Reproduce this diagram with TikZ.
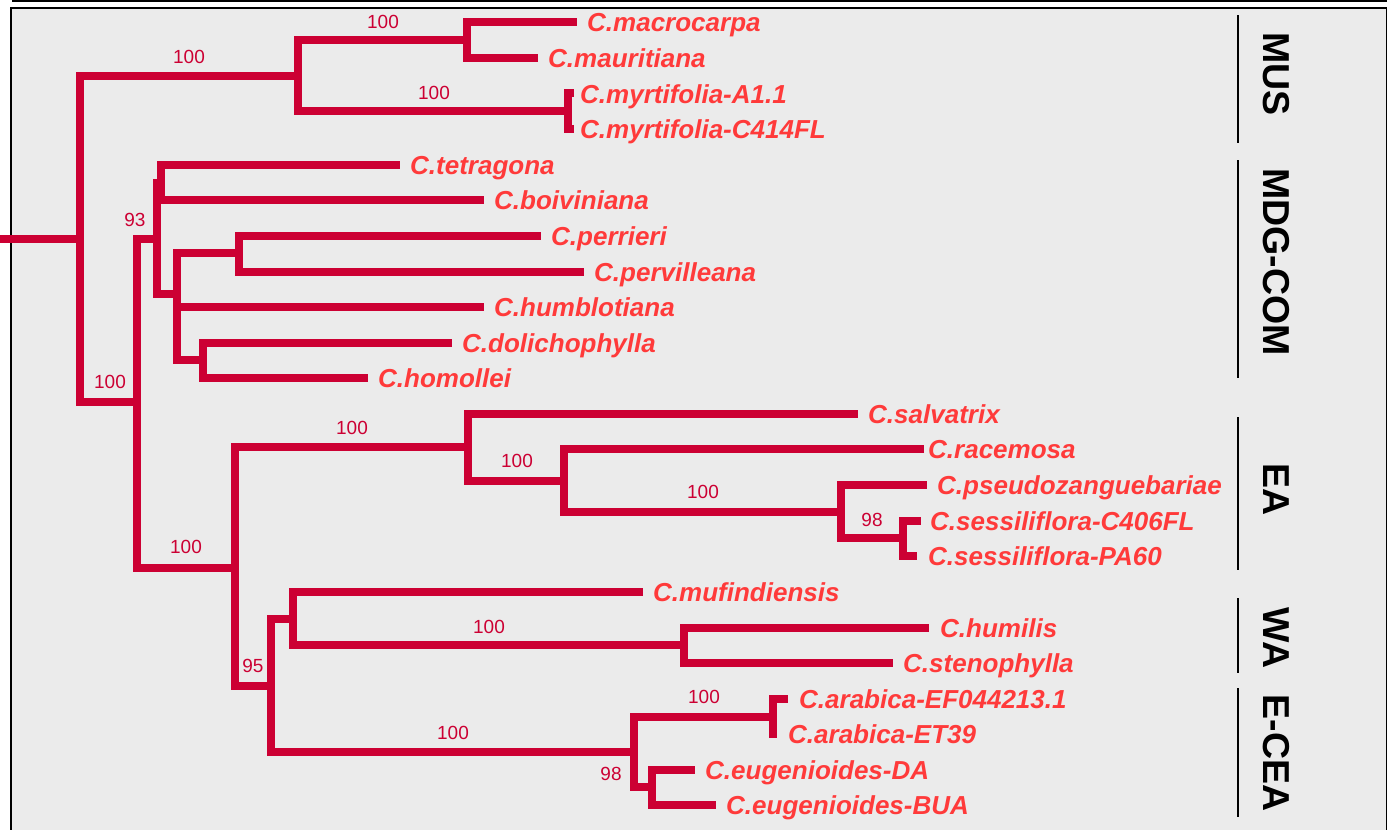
\documentclass[tikz,border=0pt]{standalone}
\usepackage{fontspec}
\setmainfont{Liberation Sans}
\definecolor{brc}{RGB}{204,0,51}
\definecolor{labc}{RGB}{255,58,58}
\definecolor{bgc}{RGB}{235,235,235}
\begin{document}
\begin{tikzpicture}[x=1pt,y=-1pt,
  br/.style={line width=8pt, draw=brc, line join=miter},
  lab/.style={font=\fontsize{26}{28}\selectfont\bfseries\itshape, text=labc, inner sep=0pt, anchor=base west},
  sup/.style={font=\fontsize{19}{21}\selectfont, text=brc, inner sep=0pt},
  grp/.style={font=\fontsize{37.5}{40}\selectfont\bfseries, rotate=-90, inner sep=0pt},
  gline/.style={line width=2pt, draw=black}]
\useasboundingbox (0,0) rectangle (1393,830);
% panel
\fill[bgc] (11,8) rectangle (1386.5,840);
\draw[line width=1.3pt] (11,840) -- (11,8) -- (1386.5,8) -- (1386.5,840);
\draw[line width=1.6pt] (12,0.8) -- (1387,0.8);

% internal nodes
\coordinate (s0) at (0,239);
\coordinate (nR) at (80,239);
\coordinate (nMUS) at (298,76);
\coordinate (nM1) at (467,40);
\coordinate (nM2) at (568,111);
\coordinate (nA) at (137,402);
\coordinate (nMDG) at (157,239);
\coordinate (nT) at (161,183);
\coordinate (nL) at (177,294);
\coordinate (nP) at (239,253);
\coordinate (nD) at (203,360);
\coordinate (nB) at (235,568);
\coordinate (nEA) at (468,447);
\coordinate (nE2) at (564,481);
\coordinate (nE3) at (841,512);
\coordinate (nE4) at (903,538);
\coordinate (nC) at (271,686);
\coordinate (nWA) at (293,619);
\coordinate (nW2) at (684,645);
\coordinate (nEC) at (634,752);
\coordinate (nAR) at (773,717);
\coordinate (nEU) at (652,787);

% leaf tips
\coordinate (t1) at (577,22);
\coordinate (t2) at (538,58);
\coordinate (t3) at (574,93);
\coordinate (t4) at (574,129);
\coordinate (t5) at (400,165);
\coordinate (t6) at (484,200);
\coordinate (t7) at (541,236);
\coordinate (t8) at (584,271.5);
\coordinate (t9) at (484,307);
\coordinate (t10) at (452,343);
\coordinate (t11) at (368,378);
\coordinate (t12) at (858,414);
\coordinate (t13) at (924,449);
\coordinate (t14) at (927,485);
\coordinate (t15) at (921,521);
\coordinate (t16) at (917,556);
\coordinate (t17) at (643,592);
\coordinate (t18) at (929,628);
\coordinate (t19) at (893,663);
\coordinate (t20) at (788,699);
\coordinate (t21) at (777,734);
\coordinate (t22) at (695,770);
\coordinate (t23) at (716,805);

% branches
\draw[br] (s0) -- (nR);
\draw[br] (nR) |- (nMUS);
\draw[br] (nR) |- (nA);
\draw[br] (nMUS) |- (nM1);
\draw[br] (nMUS) |- (nM2);
\draw[br] (nM1) |- (t1);
\draw[br] (nM1) |- (t2);
\draw[br] (nM2) |- (t3);
\draw[br] (nM2) |- (t4);
\draw[br] (nA) |- (nMDG);
\draw[br] (nA) |- (nB);
\draw[br] (nMDG) |- (nT);
\draw[br] (nMDG) |- (nL);
\draw[br] (nT) |- (t5);
\draw[br] (nT) |- (t6);
\draw[br] (nL) |- (nP);
\draw[br] (nL) |- (t9);
\draw[br] (nL) |- (nD);
\draw[br] (nP) |- (t7);
\draw[br] (nP) |- (t8);
\draw[br] (nD) |- (t10);
\draw[br] (nD) |- (t11);
\draw[br] (nB) |- (nEA);
\draw[br] (nB) |- (nC);
\draw[br] (nEA) |- (t12);
\draw[br] (nEA) |- (nE2);
\draw[br] (nE2) |- (t13);
\draw[br] (nE2) |- (nE3);
\draw[br] (nE3) |- (t14);
\draw[br] (nE3) |- (nE4);
\draw[br] (nE4) |- (t15);
\draw[br] (nE4) |- (t16);
\draw[br] (nC) |- (nWA);
\draw[br] (nC) |- (nEC);
\draw[br] (nWA) |- (t17);
\draw[br] (nWA) |- (nW2);
\draw[br] (nW2) |- (t18);
\draw[br] (nW2) |- (t19);
\draw[br] (nEC) |- (nAR);
\draw[br] (nEC) |- (nEU);
\draw[br] (nAR) |- (t20);
\draw[br] (nAR) |- (t21);
\draw[br] (nEU) |- (t22);
\draw[br] (nEU) |- (t23);

% leaf labels
\node[lab] (l1) at (587,31.5) {C.macrocarpa};
\node[lab] (l2) at (548,67.5) {C.mauritiana};
\node[lab] (l3) at (580,103.5) {C.myrtifolia-A1.1};
\node[lab] (l4) at (580,138.5) {C.myrtifolia-C414FL};
\node[lab] (l5) at (410,174.5) {C.tetragona};
\node[lab] (l6) at (494,209.5) {C.boiviniana};
\node[lab] (l7) at (551,245.5) {C.perrieri};
\node[lab] (l8) at (594,281) {C.pervilleana};
\node[lab] (l9) at (494,316.5) {C.humblotiana};
\node[lab] (l10) at (462,352.5) {C.dolichophylla};
\node[lab] (l11) at (378,387.5) {C.homollei};
\node[lab] (l12) at (868,423.5) {C.salvatrix};
\node[lab] (l13) at (928,458.5) {C.racemosa};
\node[lab] (l14) at (937,494.5) {C.pseudozanguebariae};
\node[lab] (l15) at (930,530.5) {C.sessiliflora-C406FL};
\node[lab] (l16) at (928,565.5) {C.sessiliflora-PA60};
\node[lab] (l17) at (653,601.5) {C.mufindiensis};
\node[lab] (l18) at (940,637.5) {C.humilis};
\node[lab] (l19) at (903,672.5) {C.stenophylla};
\node[lab] (l20) at (799,708.5) {C.arabica-EF044213.1};
\node[lab] (l21) at (788,743.5) {C.arabica-ET39};
\node[lab] (l22) at (705,779.5) {C.eugenioides-DA};
\node[lab] (l23) at (726,814.5) {C.eugenioides-BUA};

% support values
\node[sup] (b1) at (189,57) {100};
\node[sup] (b2) at (383,22) {100};
\node[sup] (b3) at (434,93) {100};
\node[sup] (b4) at (135,219.5) {93};
\node[sup] (b5) at (110,382) {100};
\node[sup] (b6) at (186,547) {100};
\node[sup] (b7) at (352,428) {100};
\node[sup] (b8) at (517,461) {100};
\node[sup] (b9) at (703,492) {100};
\node[sup] (b10) at (872,520) {98};
\node[sup] (b11) at (253,666) {95};
\node[sup] (b12) at (489,627) {100};
\node[sup] (b13) at (453,733) {100};
\node[sup] (b14) at (704,697) {100};
\node[sup] (b15) at (611,774) {98};

% group bars and labels
\coordinate (g1a) at (1238,15);  \coordinate (g1b) at (1238,143);
\coordinate (g2a) at (1238,160); \coordinate (g2b) at (1238,378);
\coordinate (g3a) at (1238,417); \coordinate (g3b) at (1238,570);
\coordinate (g4a) at (1238,598); \coordinate (g4b) at (1238,673);
\coordinate (g5a) at (1238,688); \coordinate (g5b) at (1238,817);
\draw[gline] (g1a) -- (g1b);
\draw[gline] (g2a) -- (g2b);
\draw[gline] (g3a) -- (g3b);
\draw[gline] (g4a) -- (g4b);
\draw[gline] (g5a) -- (g5b);
\node[grp] (G1) at (1276,74) {MUS};
\node[grp] (G2) at (1276,262) {MDG-COM};
\node[grp] (G3) at (1276,490) {EA};
\node[grp] (G4) at (1276,638) {WA};
\node[grp] (G5) at (1276,753) {E-CEA};
\end{tikzpicture}
\end{document}
